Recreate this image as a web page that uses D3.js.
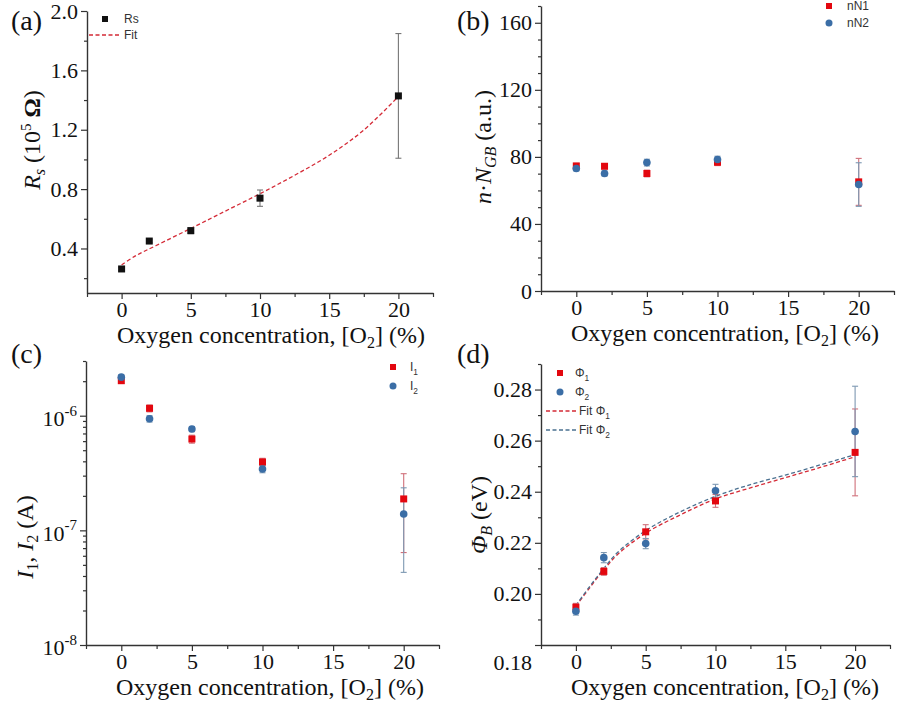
<!DOCTYPE html>
<html><head><meta charset="utf-8">
<script src="https://cdn.jsdelivr.net/npm/d3@7"></script>
<style>
body{margin:0;background:#fff;}
svg{display:block;}
</style></head>
<body>
<svg id="chart" width="902" height="706"></svg>
<script>
// ---------- data ----------
const xConc = [0, 2, 5, 10, 20];
const xMajorTicks = [0, 5, 10, 15, 20];
const xMinorTicks = [-2.5, 2.5, 7.5, 12.5, 17.5, 22.5];

// (a) Rs
const rsValues = [0.262, 0.45, 0.52, 0.739, 1.428];
const rsErrors = [0.01, 0.01, 0.02, 0.055, 0.42];
const rsFitX = [0, 1, 2.5, 5, 7.5, 10, 12.5, 15, 17.5, 20];
const rsFitY = [0.29, 0.35, 0.42, 0.535, 0.652, 0.769, 0.893, 1.028, 1.198, 1.424];
const rsTicks = [0.4, 0.8, 1.2, 1.6, 2.0];
const rsMinor = [0.2, 0.6, 1.0, 1.4, 1.8];

// (b) n*N_GB
const nN1 = [74.6, 74.4, 70.1, 76.8, 65.1];
const nN1Err = [1.5, 1.5, 2, 2, 14];
const nN2 = [73.1, 70.1, 76.6, 78.4, 63.5];
const nN2Err = [1.5, 1.5, 2, 2, 13];
const nTicks = [0, 40, 80, 120, 160];
const nMinor = [10, 20, 30, 50, 60, 70, 90, 100, 110, 130, 140, 150, 170];

// (c) currents
const I1 = [2.02e-6, 1.16e-6, 6.26e-7, 3.95e-7, 1.88e-7];
const I1Err = [1e-7, 8e-8, 5e-8, 3e-8, 1.24e-7];
const I2 = [2.17e-6, 9.4e-7, 7.65e-7, 3.43e-7, 1.39e-7];
const I2Err = [1e-7, 6e-8, 4e-8, 2.5e-8, 9.6e-8];
const iTicks = [1e-8, 1e-7, 1e-6];
const iTickExp = ["-8", "-7", "-6"];
const iMinor = [2e-8,3e-8,4e-8,5e-8,6e-8,7e-8,8e-8,9e-8,2e-7,3e-7,4e-7,5e-7,6e-7,7e-7,8e-7,9e-7,2e-6,3e-6];

// (d) barrier heights
const phi1 = [0.1948, 0.2088, 0.2243, 0.2364, 0.2554];
const phi1Err = [0.0015, 0.0015, 0.0028, 0.0025, 0.017];
const phi2 = [0.1932, 0.2142, 0.2197, 0.2404, 0.2636];
const phi2Err = [0.0015, 0.002, 0.002, 0.0025, 0.0177];
const phiFitX = [0, 1, 2, 3, 5, 7.5, 10, 12.5, 15, 17.5, 20];
const phi1Fit = [0.1952, 0.2025, 0.2095, 0.2155, 0.2238, 0.2310, 0.2372, 0.2415, 0.2455, 0.2495, 0.2537];
const phi2Fit = [0.1955, 0.2030, 0.2100, 0.2163, 0.2248, 0.2322, 0.2382, 0.2428, 0.2465, 0.2505, 0.2545];
const phiTicks = [0.18, 0.20, 0.22, 0.24, 0.26, 0.28];
const phiMinor = [0.19, 0.21, 0.23, 0.25, 0.27, 0.29];

// ---------- style ----------
const RED = "#e3070f", BLUE = "#3b6ea6", RED_ERR = "#d0707a", BLUE_ERR = "#7d98b2";
const AXIS = "#333";
const SERIF = "Liberation Serif";
const SANS = "Liberation Sans";

const svg = d3.select("#chart");

function makeAxes(p) {
  const g = svg.append("g");
  const x = d3.scaleLinear().domain([-2.5, 22.5]).range([p.left, p.right]);
  const y = (p.log ? d3.scaleLog() : d3.scaleLinear()).domain(p.yDomain).range([p.bottom, p.top]);
  const gx = g.append("g").attr("transform", `translate(0,${p.bottom})`)
    .call(d3.axisBottom(x).tickValues(xMajorTicks).tickSize(6).tickPadding(2).tickSizeOuter(0));
  g.append("g").attr("transform", `translate(0,${p.bottom})`)
    .call(d3.axisBottom(x).tickValues(xMinorTicks).tickSize(4).tickFormat("").tickSizeOuter(0))
    .select(".domain").remove();
  const yAx = d3.axisLeft(y).tickValues(p.yTicks).tickSize(6).tickPadding(3).tickSizeOuter(0);
  if (p.yFormat) yAx.tickFormat(p.yFormat);
  const gy = g.append("g").attr("transform", `translate(${p.left},0)`).call(yAx);
  g.append("g").attr("transform", `translate(${p.left},0)`)
    .call(d3.axisLeft(y).tickValues(p.yMinor).tickSize(3).tickFormat("").tickSizeOuter(0))
    .select(".domain").remove();
  g.selectAll("g").attr("font-family", SERIF);
  g.selectAll(".domain").attr("stroke", AXIS).attr("stroke-width", 1.4);
  g.selectAll(".tick line").attr("stroke", AXIS).attr("stroke-width", 1.2);
  g.selectAll(".tick text").attr("font-family", SERIF).attr("font-size", 22).attr("fill", "#111");
  const xt = g.append("text").attr("font-family", SERIF).attr("x", p.left + 30).attr("y", p.bottom + 50)
    .attr("font-size", 24).attr("fill", "#111");
  xt.append("tspan").text("Oxygen concentration, [O");
  xt.append("tspan").attr("font-size", 16).attr("dy", 5).text("2");
  xt.append("tspan").attr("dy", -5).text("] (%)");
  g.append("text").attr("font-family", SERIF).attr("x", p.labelX).attr("y", p.labelY)
    .attr("font-size", 28).attr("fill", "#111").text(p.label);
  return {g, x, y, gx, gy};
}

function errorBars(g, x, y, vals, errs, color) {
  const d = xConc.map((c, i) => ({c, v: vals[i], e: errs[i]}));
  const eg = g.append("g").attr("stroke", color).attr("stroke-width", 1.1).attr("fill", "none");
  d.forEach(o => {
    const xx = x(o.c), y1 = y(o.v + o.e), y2 = y(o.v - o.e);
    eg.append("line").attr("x1", xx).attr("x2", xx).attr("y1", y1).attr("y2", y2);
    eg.append("line").attr("x1", xx - 3).attr("x2", xx + 3).attr("y1", y1).attr("y2", y1);
    eg.append("line").attr("x1", xx - 3).attr("x2", xx + 3).attr("y1", y2).attr("y2", y2);
  });
}
function squares(g, x, y, vals, color, s) {
  g.append("g").selectAll("rect").data(xConc.map((c, i) => [c, vals[i]])).join("rect")
    .attr("x", d => x(d[0]) - s / 2).attr("y", d => y(d[1]) - s / 2)
    .attr("width", s).attr("height", s).attr("fill", color);
}
function circles(g, x, y, vals, color, r) {
  g.append("g").selectAll("circle").data(xConc.map((c, i) => [c, vals[i]])).join("circle")
    .attr("cx", d => x(d[0])).attr("cy", d => y(d[1])).attr("r", r).attr("fill", color);
}
function fitLine(g, x, y, xs, ys, color) {
  g.append("path").datum(xs.map((c, i) => [c, ys[i]]))
    .attr("d", d3.line().x(d => x(d[0])).y(d => y(d[1])).curve(d3.curveCatmullRom))
    .attr("fill", "none").attr("stroke", color).attr("stroke-width", 1.3).attr("stroke-dasharray", "4,2.5");
}
function legText(g, xx, yy, main, sub, size) {
  const t = g.append("text").attr("font-family", SANS).attr("x", xx).attr("y", yy).attr("dy", "0.35em")
    .attr("font-size", size || 12).attr("fill", "#333");
  t.append("tspan").text(main);
  if (sub) t.append("tspan").attr("font-size", (size || 12) * 0.7).attr("dy", 4).text(sub);
  return t;
}
function yTitle(g, tx, ty) {
  return g.append("text").attr("font-family", SERIF).attr("transform", `translate(${tx},${ty}) rotate(-90)`)
    .attr("text-anchor", "middle").attr("font-size", 24).attr("fill", "#111");
}

// ---------- (a) ----------
{
  const {g, x, y} = makeAxes({left: 87, right: 433, top: 11, bottom: 293, yDomain: [0.1, 2.0],
    yTicks: rsTicks, yMinor: rsMinor, yFormat: d3.format(".1f"), label: "(a)", labelX: 11, labelY: 30});
  fitLine(g, x, y, rsFitX, rsFitY, "#d42a36");
  errorBars(g, x, y, rsValues, rsErrors, "#777");
  squares(g, x, y, rsValues, "#111", 7);
  const yt = yTitle(g, 40, 140);
  yt.append("tspan").attr("font-style", "italic").text("R");
  yt.append("tspan").attr("font-style", "italic").attr("font-size", 16).attr("dy", 5).text("s");
  yt.append("tspan").attr("dy", -5).text(" (10");
  yt.append("tspan").attr("font-size", 15).attr("dy", -9).text("5");
  yt.append("tspan").attr("dy", 9).attr("font-weight", "bold").text(" Ω");
  yt.append("tspan").text(")");
  g.append("rect").attr("x", 102).attr("y", 16).attr("width", 6).attr("height", 6).attr("fill", "#111");
  legText(g, 124, 19, "Rs");
  g.append("line").attr("x1", 89).attr("x2", 120).attr("y1", 35).attr("y2", 35)
    .attr("stroke", "#d42a36").attr("stroke-width", 1.3).attr("stroke-dasharray", "4,2.5");
  legText(g, 124, 35, "Fit");
}

// ---------- (b) ----------
{
  const {g, x, y} = makeAxes({left: 541, right: 894, top: 6, bottom: 291, yDomain: [0, 170],
    yTicks: nTicks, yMinor: nMinor, label: "(b)", labelX: 457, labelY: 30});
  errorBars(g, x, y, nN1, nN1Err, RED_ERR);
  errorBars(g, x, y, nN2, nN2Err, BLUE_ERR);
  squares(g, x, y, nN1, RED, 7);
  circles(g, x, y, nN2, BLUE, 3.8);
  const yt = yTitle(g, 491, 147);
  yt.append("tspan").attr("font-style", "italic").text("n");
  yt.append("tspan").text("·");
  yt.append("tspan").attr("font-style", "italic").text("N");
  yt.append("tspan").attr("font-style", "italic").attr("font-size", 16).attr("dy", 5).text("GB");
  yt.append("tspan").attr("dy", -5).text(" (a.u.)");
  g.append("rect").attr("x", 826).attr("y", 3).attr("width", 6).attr("height", 6).attr("fill", RED);
  legText(g, 847, 6, "nN1");
  g.append("circle").attr("cx", 829).attr("cy", 23).attr("r", 3.5).attr("fill", BLUE);
  legText(g, 847, 23, "nN2");
}

// ---------- (c) ----------
{
  const {g, x, y, gy} = makeAxes({left: 86, right: 439, top: 361, bottom: 645, yDomain: [1e-8, 3e-6], log: true,
    yTicks: iTicks, yMinor: iMinor, yFormat: () => "", label: "(c)", labelX: 11, labelY: 363});
  gy.selectAll(".tick text").each(function(d) {
    const t = d3.select(this);
    const i = iTicks.indexOf(d);
    t.text("10").attr("dy", "0.45em");
    t.append("tspan").attr("font-size", 15).attr("dy", "-0.7em").text(iTickExp[i]);
  });
  errorBars(g, x, y, I1, I1Err, RED_ERR);
  errorBars(g, x, y, I2, I2Err, BLUE_ERR);
  squares(g, x, y, I1, RED, 7);
  circles(g, x, y, I2, BLUE, 3.8);
  const yt = yTitle(g, 33, 537);
  yt.append("tspan").attr("font-style", "italic").text("I");
  yt.append("tspan").attr("font-size", 16).attr("dy", 5).text("1");
  yt.append("tspan").attr("dy", -5).text(", ");
  yt.append("tspan").attr("font-style", "italic").text("I");
  yt.append("tspan").attr("font-size", 16).attr("dy", 5).text("2");
  yt.append("tspan").attr("dy", -5).text(" (A)");
  g.append("rect").attr("x", 390).attr("y", 364).attr("width", 6).attr("height", 6).attr("fill", RED);
  legText(g, 410, 367, "I", "1");
  g.append("circle").attr("cx", 393).attr("cy", 386).attr("r", 3.5).attr("fill", BLUE);
  legText(g, 410, 386, "I", "2");
}

// ---------- (d) ----------
{
  const {g, x, y, gy} = makeAxes({left: 541, right: 890, top: 364, bottom: 645, yDomain: [0.18, 0.29],
    yTicks: phiTicks, yMinor: phiMinor, yFormat: d3.format(".2f"), label: "(d)", labelX: 457, labelY: 363});
  gy.selectAll(".tick text").filter(d => d === phiTicks[0]).attr("dy", "1.1em");
  fitLine(g, x, y, phiFitX, phi1Fit, "#d42a36");
  fitLine(g, x, y, phiFitX, phi2Fit, "#4a7090");
  errorBars(g, x, y, phi1, phi1Err, RED_ERR);
  errorBars(g, x, y, phi2, phi2Err, BLUE_ERR);
  squares(g, x, y, phi1, RED, 7);
  circles(g, x, y, phi2, BLUE, 3.8);
  const yt = yTitle(g, 487, 515);
  yt.append("tspan").attr("font-style", "italic").text("Φ");
  yt.append("tspan").attr("font-style", "italic").attr("font-size", 16).attr("dy", 5).text("B");
  yt.append("tspan").attr("dy", -5).text(" (eV)");
  g.append("rect").attr("x", 557).attr("y", 370).attr("width", 6).attr("height", 6).attr("fill", RED);
  legText(g, 575, 373, "Φ", "1");
  g.append("circle").attr("cx", 560).attr("cy", 392).attr("r", 3.5).attr("fill", BLUE);
  legText(g, 575, 392, "Φ", "2");
  g.append("line").attr("x1", 546).attr("x2", 577).attr("y1", 411).attr("y2", 411)
    .attr("stroke", "#d42a36").attr("stroke-width", 1.3).attr("stroke-dasharray", "4,2.5");
  legText(g, 579, 411, "Fit Φ", "1");
  g.append("line").attr("x1", 546).attr("x2", 577).attr("y1", 430).attr("y2", 430)
    .attr("stroke", "#4a7090").attr("stroke-width", 1.3).attr("stroke-dasharray", "4,2.5");
  legText(g, 579, 430, "Fit Φ", "2");
}
</script>
</body></html>
